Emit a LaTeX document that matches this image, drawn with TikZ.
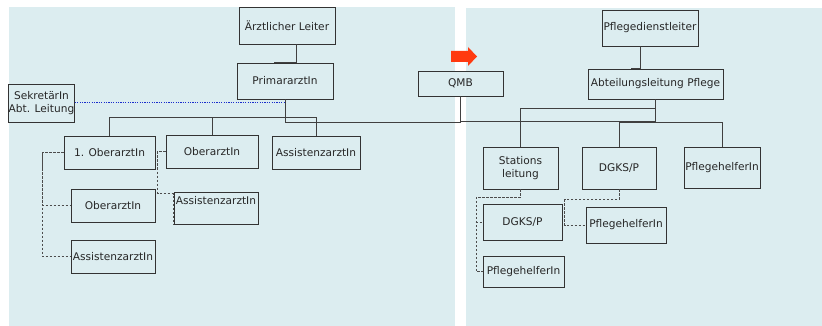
\documentclass[tikz,border=0pt]{standalone}
\usepackage{fontspec}
\setmainfont{DejaVu Sans}

\definecolor{panel}{HTML}{DCEDF0}
\definecolor{qmbred}{HTML}{FF3A10}
\definecolor{dotblue}{HTML}{1A2ECC}

\begin{document}
\begin{tikzpicture}[x=1pt, y=-1pt,
        box/.style={draw=black!80, line width=0.9pt, fill=panel, inner sep=0pt,
            align=center, text=black!85, font=\fontsize{10.6}{12.5}\selectfont},
        link/.style={draw=black!75, line width=0.9pt},
        sub/.style={draw=black!70, line width=0.8pt, dash pattern=on 2.5pt off 1.5pt}]
    \useasboundingbox (0,0) rectangle (822,326);

    \fill[panel] (9,7) rectangle (455,326);
    \fill[panel] (466,8) rectangle (822,326);

    \node[box, minimum width=96pt, minimum height=37pt] (leiter) at (287,25.5) {Ärztlicher Leiter};
    \node[box, minimum width=96pt, minimum height=36pt] (prim) at (285,81) {PrimararztIn};
    \node[box, minimum width=65pt, minimum height=38pt] (sek) at (41.5,103) {SekretärIn\\Abt. Leitung};
    \node[box, minimum width=91pt, minimum height=33pt] (ober1) at (109.5,152.5) {1. OberarztIn};
    \node[box, minimum width=92pt, minimum height=33pt] (ober) at (212,151.5) {OberarztIn};
    \node[box, minimum width=88pt, minimum height=33pt] (assist) at (316,152.5) {AssistenzarztIn};
    \node[box, minimum width=84pt, minimum height=33pt] (ober2) at (113,205.5) {OberarztIn};
    \node[box, minimum width=84pt, minimum height=33pt] (assist3) at (113,256.5) {AssistenzarztIn};
    \node[box, minimum width=84pt, minimum height=32pt, text depth=16pt] (assist2) at (216,208) {AssistenzarztIn};
    \node[box, minimum width=85pt, minimum height=25pt] (qmb) at (460.5,83.5) {QMB};

    \node[box, minimum width=96pt, minimum height=36pt] (pdl) at (650,28) {Pflegedienstleiter};
    \node[box, minimum width=135pt, minimum height=30pt] (abt) at (655.5,84) {Abteilungsleitung Pflege};
    \node[box, minimum width=75pt, minimum height=42pt] (stat) at (520.5,168) {Stations\\leitung};
    \node[box, minimum width=74pt, minimum height=42pt] (dgks) at (619,168) {DGKS/P};
    \node[box, minimum width=76pt, minimum height=41pt] (helfer) at (722,167.5) {PflegehelferIn};
    \node[box, minimum width=79pt, minimum height=36pt] (dgks2) at (522.5,222) {DGKS/P};
    \node[box, minimum width=81pt, minimum height=31pt] (helfer3) at (523.5,271.5) {PflegehelferIn};
    \node[box, minimum width=80pt, minimum height=36pt] (helfer2) at (626,225) {PflegehelferIn};

    \fill[qmbred] (451,51) -- (468,51) -- (468,47) -- (477,56.5) -- (468,66) -- (468,62) -- (451,62) -- cycle;

    \draw[link] ([xshift=9pt]leiter.south) |- ([xshift=-11pt]prim.north);
    \draw[dotblue, line width=1pt, dash pattern=on 1.2pt off 1.2pt] (sek.east) -- (sek.east -| prim.south);
    \draw[link] (ober1.north) -- ++(0,-18) -| (assist.north);
    \draw[link] (ober.north) -- ++(0,-17);
    \draw[link] (prim.south) -- ++(0,23) -| ([yshift=-25pt]qmb.south);
    \draw[link] (abt.south) |- ([yshift=-25pt]qmb.south) -- (qmb.south);
    \draw[link] ([xshift=-10pt]pdl.south) |- ([xshift=-25pt]abt.north);
    \draw[link] (stat.north) -- ++(0,-38) -| (abt.south);
    \draw[link] (dgks.north) -- ++(0,-24) -| (helfer.north);
    \draw[link] (abt.south) -- ++(0,24);

    \draw[sub] (ober1.west) -- ++(-21,0) |- (assist3.west);
    \draw[sub] ([xshift=-21pt]ober1.west) |- (ober2.west);
    \draw[sub] (ober.west) -- ++(-8,0) |- ([yshift=-2pt]assist2.north west) -- (assist2.south west);
    \draw[sub] (stat.south) -- ++(0,8) -- ++(-44.5,0) |- (helfer3.west);
    \draw[sub] ([xshift=-7pt]dgks2.west) -- (dgks2.west);
    \draw[sub] (dgks.south) -- ++(0,10) -| ([xshift=-21pt]helfer2.west) -- (helfer2.west);
\end{tikzpicture}
\end{document}
